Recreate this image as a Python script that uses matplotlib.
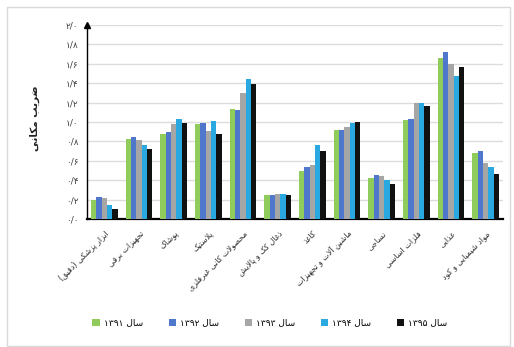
import re
import numpy as np
import matplotlib
matplotlib.use("Agg")
import matplotlib.pyplot as plt
from matplotlib.patches import Rectangle

plt.rcParams['font.family'] = ['DejaVu Sans']

# data
categories = ["ابزار پزشکی (دقیق)", "تجهیزات برقی", "پوشاک", "پلاستیک",
              "محصولات کانی غیرفلزی", "ذغال کک و پالایش", "کاغذ",
              "ماشین آلات و تجهیزات", "نساجی", "فلزات اساسی", "غذایی",
              "مواد شیمیایی و کود"]
years = ["سال ۱۳۹۱", "سال ۱۳۹۲", "سال ۱۳۹۳", "سال ۱۳۹۴", "سال ۱۳۹۵"]
y1391 = [0.20, 0.82, 0.88, 0.98, 1.13, 0.25, 0.50, 0.92, 0.42, 1.02, 1.66, 0.68]
y1392 = [0.23, 0.85, 0.90, 0.99, 1.12, 0.25, 0.54, 0.92, 0.45, 1.03, 1.72, 0.70]
y1393 = [0.22, 0.81, 0.98, 0.91, 1.30, 0.26, 0.56, 0.95, 0.44, 1.20, 1.60, 0.58]
y1394 = [0.14, 0.76, 1.03, 1.01, 1.44, 0.26, 0.76, 0.99, 0.40, 1.20, 1.47, 0.54]
y1395 = [0.10, 0.72, 0.99, 0.88, 1.39, 0.25, 0.70, 1.00, 0.36, 1.16, 1.57, 0.46]
ylabel = "ضریب مکانی"
yticks = [0.0, 0.2, 0.4, 0.6, 0.8, 1.0, 1.2, 1.4, 1.6, 1.8, 2.0]

series = [y1391, y1392, y1393, y1394, y1395]
colors = ['#8fcc5c', '#4f78cc', '#a6a6a6', '#2aa9e0', '#111111']

# matplotlib has no arabic shaping, so pick presentation forms by hand
FORMS = {
    'ا': (0xFE8D, 0xFE8E), 'آ': (0xFE81, 0xFE82), 'د': (0xFEA9, 0xFEAA),
    'ذ': (0xFEAB, 0xFEAC), 'ر': (0xFEAD, 0xFEAE), 'ز': (0xFEAF, 0xFEB0),
    'ژ': (0xFB8A, 0xFB8B), 'و': (0xFEED, 0xFEEE),
    'ب': (0xFE8F, 0xFE90, 0xFE91, 0xFE92), 'پ': (0xFB56, 0xFB57, 0xFB58, 0xFB59),
    'ت': (0xFE95, 0xFE96, 0xFE97, 0xFE98), 'ث': (0xFE99, 0xFE9A, 0xFE9B, 0xFE9C),
    'ج': (0xFE9D, 0xFE9E, 0xFE9F, 0xFEA0), 'چ': (0xFB7A, 0xFB7B, 0xFB7C, 0xFB7D),
    'ح': (0xFEA1, 0xFEA2, 0xFEA3, 0xFEA4), 'خ': (0xFEA5, 0xFEA6, 0xFEA7, 0xFEA8),
    'س': (0xFEB1, 0xFEB2, 0xFEB3, 0xFEB4), 'ش': (0xFEB5, 0xFEB6, 0xFEB7, 0xFEB8),
    'ص': (0xFEB9, 0xFEBA, 0xFEBB, 0xFEBC), 'ض': (0xFEBD, 0xFEBE, 0xFEBF, 0xFEC0),
    'ط': (0xFEC1, 0xFEC2, 0xFEC3, 0xFEC4), 'ظ': (0xFEC5, 0xFEC6, 0xFEC7, 0xFEC8),
    'ع': (0xFEC9, 0xFECA, 0xFECB, 0xFECC), 'غ': (0xFECD, 0xFECE, 0xFECF, 0xFED0),
    'ف': (0xFED1, 0xFED2, 0xFED3, 0xFED4), 'ق': (0xFED5, 0xFED6, 0xFED7, 0xFED8),
    'ک': (0xFB8E, 0xFB8F, 0xFB90, 0xFB91), 'گ': (0xFB92, 0xFB93, 0xFB94, 0xFB95),
    'ل': (0xFEDD, 0xFEDE, 0xFEDF, 0xFEE0), 'م': (0xFEE1, 0xFEE2, 0xFEE3, 0xFEE4),
    'ن': (0xFEE5, 0xFEE6, 0xFEE7, 0xFEE8), 'ه': (0xFEE9, 0xFEEA, 0xFEEB, 0xFEEC),
    'ی': (0xFBFC, 0xFBFD, 0xFBFE, 0xFBFF),
}
LAM_ALEF = {'ا': (0xFEFB, 0xFEFC), 'آ': (0xFEF5, 0xFEF6)}


def fa(text):
    out = []
    i = 0
    n = len(text)
    while i < n:
        c = text[i]
        prev = text[i - 1] if i > 0 else ''
        joins_prev = prev in FORMS and len(FORMS[prev]) == 4 and out and out[-1] != ' '
        if c == 'ل' and i + 1 < n and text[i + 1] in LAM_ALEF:
            f = LAM_ALEF[text[i + 1]]
            out.append(chr(f[1] if joins_prev else f[0]))
            i += 2
            continue
        if c in FORMS:
            f = FORMS[c]
            nxt = text[i + 1] if i + 1 < n else ''
            joins_next = len(f) == 4 and nxt in FORMS
            if len(f) == 4 and joins_prev and joins_next:
                out.append(chr(f[3]))
            elif len(f) == 4 and joins_next:
                out.append(chr(f[2]))
            elif joins_prev:
                out.append(chr(f[1]))
            else:
                out.append(chr(f[0]))
        else:
            out.append(c)
        i += 1
    vis = ''.join(out)[::-1]
    vis = vis.translate(str.maketrans('()', ')('))
    vis = re.sub(r'[۰-۹0-9/]+', lambda m: m.group(0)[::-1], vis)
    return vis


def fa_num(v):
    digits = '۰۱۲۳۴۵۶۷۸۹'
    s = f"{v:.1f}".replace('.', '/')
    return ''.join(digits[int(ch)] if ch.isdigit() else ch for ch in s)


fig = plt.figure(figsize=(5.14, 3.47), dpi=100)
fig.patches.append(Rectangle((7 / 514, 1 / 347), 503 / 514, 339 / 347,
                             transform=fig.transFigure, fill=False,
                             edgecolor='#d9d9d9', linewidth=1))
ax = fig.add_axes([87 / 514, 1 - 219 / 347, 416 / 514, 194 / 347])

x = np.arange(len(categories))
w = 0.155
for k, vals in enumerate(series):
    ax.bar(x + (k - 2) * w, vals, width=w, color=colors[k], label=fa(years[k]), zorder=3)

ax.set_xlim(-0.5, len(categories) - 0.5)
ax.set_ylim(0, 2.0)
ax.set_yticks(yticks)
ax.set_yticklabels([fa_num(v) for v in yticks], fontsize=6.5, color='#404040')
ax.yaxis.grid(True, color='#dcdcdc', linewidth=1, zorder=0)
ax.set_axisbelow(True)
ax.set_xticks(x)
ax.set_xticklabels([fa(c) for c in categories], rotation=45, ha='right',
                   rotation_mode='anchor', fontsize=5.8, color='#303030')
ax.tick_params(axis='both', length=0)
ax.tick_params(axis='y', pad=6)
ax.tick_params(axis='x', pad=7)
for s in ['top', 'right']:
    ax.spines[s].set_visible(False)
ax.spines['left'].set_color('black')
ax.spines['left'].set_linewidth(1.0)
ax.spines['bottom'].set_color('black')
ax.spines['bottom'].set_linewidth(1.6)
ax.plot(0, 1.0, marker='^', color='black', markersize=5,
        transform=ax.transAxes, clip_on=False, zorder=5)

fig.text(35 / 514, 1 - 118 / 347, fa(ylabel), rotation=90, ha='center', va='center',
         fontsize=7.5, fontweight='bold', color='#222222')

fig.legend(loc='center', bbox_to_anchor=(270 / 514, 1 - 323 / 347), ncol=5,
           frameon=False, fontsize=6.5, handlelength=0.8, handleheight=0.8,
           columnspacing=2.8, handletextpad=0.5)

fig.savefig('out.png', dpi=100)
